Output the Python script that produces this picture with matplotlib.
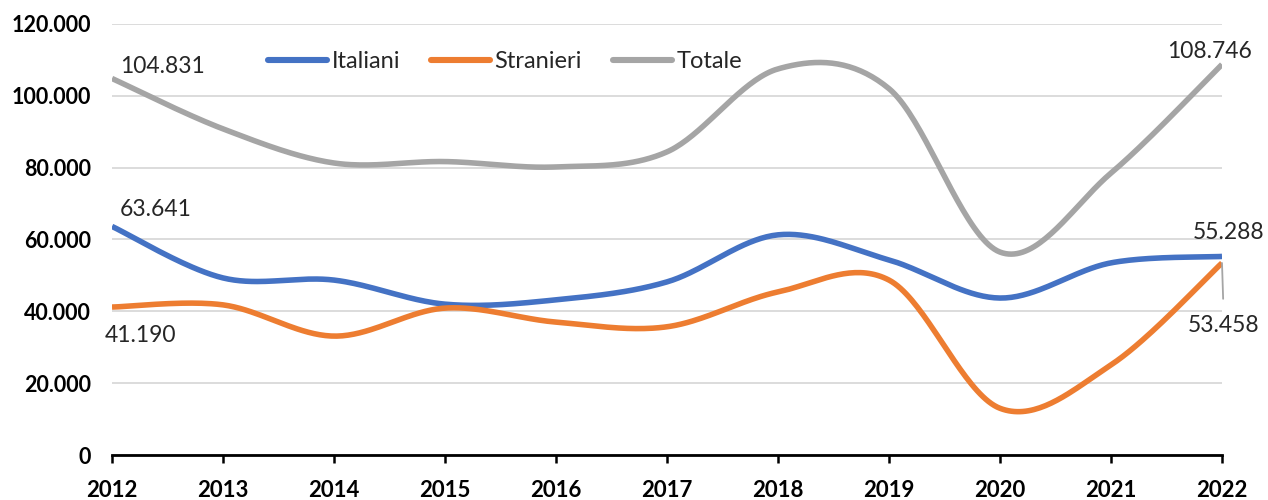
import numpy as np
import matplotlib
matplotlib.use("Agg")
import matplotlib.pyplot as plt
from matplotlib.ticker import FuncFormatter

years = ["2012", "2013", "2014", "2015", "2016", "2017", "2018", "2019", "2020", "2021", "2022"]
italiani = [63641, 49300, 48700, 42000, 43200, 48200, 61300, 54300, 43700, 53500, 55288]
stranieri = [41190, 41800, 33100, 40900, 37000, 35700, 45400, 48700, 13000, 25100, 53458]
totale = [104831, 90800, 81300, 81700, 80200, 84400, 107500, 102000, 56500, 78500, 108746]

series_names = ["Italiani", "Stranieri", "Totale"]
colors = ["#4472C4", "#ED7D31", "#A5A5A5"]

plt.rcParams['font.family'] = ['Lato', 'DejaVu Sans']


def smooth(xs, ys, n=40):
    xs = np.asarray(xs, float)
    ys = np.asarray(ys, float)
    P = np.column_stack([xs, ys])
    Pext = np.vstack([P[0], P, P[-1]])
    out = []
    t = np.linspace(0, 1, n)[:, None]
    for i in range(len(P) - 1):
        p0 = Pext[i + 1]
        p3 = Pext[i + 2]
        c1 = p0 + (Pext[i + 2] - Pext[i]) / 6.0
        c2 = p3 - (Pext[i + 3] - Pext[i + 1]) / 6.0
        seg = ((1 - t) ** 3) * p0 + 3 * ((1 - t) ** 2) * t * c1 + 3 * (1 - t) * t ** 2 * c2 + t ** 3 * p3
        out.append(seg if i == 0 else seg[1:])
    out = np.vstack(out)
    return out[:, 0], out[:, 1]


fig = plt.figure(figsize=(12.68, 5.0), dpi=100)
ax = fig.add_axes([112 / 1268, 1 - 455 / 500, (1222 - 112) / 1268, (455 - 24) / 500])

x = np.arange(len(years))
for name, vals, c in zip(series_names, [italiani, stranieri, totale], colors):
    sx, sy = smooth(x, vals)
    ax.plot(sx, sy, color=c, lw=4.0, solid_capstyle='butt', label=name, zorder=3)

ax.set_xlim(0, len(years) - 1)
ax.set_ylim(0, 120000)
ax.set_yticks(np.arange(0, 120001, 20000))
ax.yaxis.set_major_formatter(FuncFormatter(lambda v, p: f"{int(v):,}".replace(",", ".")))
ax.set_xticks(x)
ax.set_xticklabels(years)

ax.grid(axis='y', color='#D9D9D9', lw=1.3, zorder=0)
ax.set_axisbelow(True)
for s in ['left', 'right', 'top']:
    ax.spines[s].set_visible(False)
ax.spines['bottom'].set_color('black')
ax.spines['bottom'].set_linewidth(2.0)
ax.spines['bottom'].set_zorder(4)

ax.tick_params(axis='y', length=0, pad=15, labelsize=15.5, colors='black')
ax.tick_params(axis='x', length=6, width=1.8, direction='out', pad=12, labelsize=16, colors='black')
for lab in ax.get_xticklabels() + ax.get_yticklabels():
    lab.set_fontweight('bold')

leg = fig.legend(loc='center', bbox_to_anchor=(505 / 1268, 1 - 62 / 500), ncol=3, frameon=False,
                 fontsize=17, handlelength=2.5, handletextpad=0.2, columnspacing=1.3)
for h in leg.get_lines():
    h.set_linewidth(4.4)
    h.set_solid_capstyle('round')
for t in leg.get_texts():
    t.set_color('#262626')

lab_col = '#262626'
fs = 16.5
ax.annotate("104.831", xy=(0, totale[0]), xytext=(8, 12), textcoords='offset pixels',
            ha='left', va='center', fontsize=fs, color=lab_col)
ax.annotate("63.641", xy=(0, italiani[0]), xytext=(8, 17), textcoords='offset pixels',
            ha='left', va='center', fontsize=fs, color=lab_col)
ax.annotate("41.190", xy=(0, stranieri[0]), xytext=(-7, -28), textcoords='offset pixels',
            ha='left', va='center', fontsize=fs, color=lab_col, annotation_clip=False)
ax.annotate("108.746", xy=(10, totale[-1]), xytext=(-12, 13), textcoords='offset pixels',
            ha='center', va='center', fontsize=fs, color=lab_col, annotation_clip=False)
ax.annotate("55.288", xy=(10, italiani[-1]), xytext=(7, 24), textcoords='offset pixels',
            ha='center', va='center', fontsize=fs, color=lab_col, annotation_clip=False)
ax.annotate("53.458", xy=(10, stranieri[-1]), xytext=(2, -63), textcoords='offset pixels',
            ha='center', va='center', fontsize=fs, color=lab_col, annotation_clip=False,
            arrowprops=dict(arrowstyle='-', color='#A5A5A5', lw=1.3, shrinkA=10, shrinkB=0))

fig.savefig("out.png", dpi=100)
